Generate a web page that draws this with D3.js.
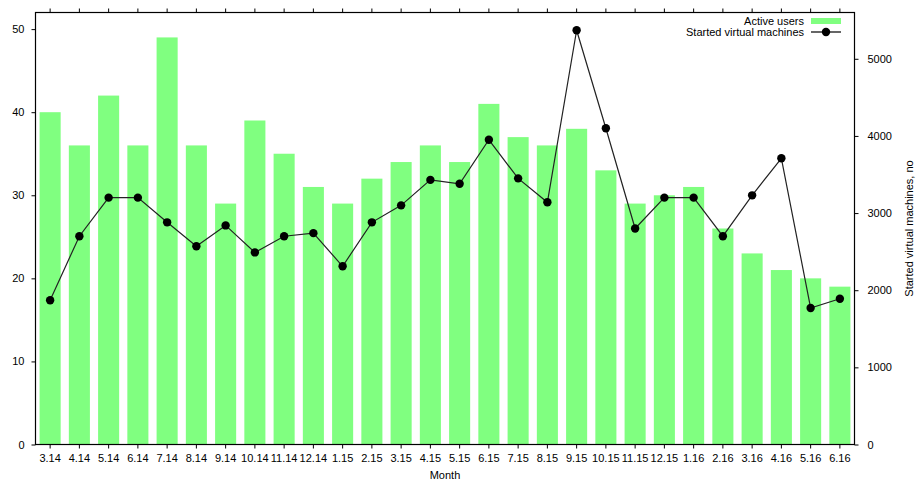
<!DOCTYPE html>
<html>
<head>
<meta charset="utf-8">
<script src="https://cdn.jsdelivr.net/npm/d3@7"></script>
<style>
  body { margin: 0; background: #fff; }
  text { font-family: "Liberation Sans", Arial, sans-serif; }
</style>
</head>
<body>
<script>
var w = 919;
var h = 484;

//months on the x axis
var months = ["3.14","4.14","5.14","6.14","7.14","8.14","9.14","10.14","11.14","12.14",
              "1.15","2.15","3.15","4.15","5.15","6.15","7.15","8.15","9.15","10.15","11.15","12.15",
              "1.16","2.16","3.16","4.16","5.16","6.16"];

//active users per month (left axis)
var activeUsers = [40,36,42,36,49,36,29,39,35,31,29,32,34,36,34,41,37,36,38,33,29,30,31,26,23,21,20,19];

//started virtual machines per month (right axis)
var startedVMs = [1870,2700,3200,3200,2880,2570,2840,2490,2700,2740,2310,2880,3100,3430,3380,3950,
                  3450,3140,5370,4100,2800,3200,3200,2700,3230,3710,1770,1890];

var leftTicks = [0,10,20,30,40,50];
var rightTicks = [0,1000,2000,3000,4000,5000];

var margin = {left: 35.5, right: 854.5, top: 12.5, bottom: 444.5};

var svg = d3.select("body").append("svg")
    .attr("width", w)
    .attr("height", h);

//scales
var x = d3.scaleBand()
    .domain(months)
    .range([margin.left, margin.right])
    .paddingInner(0.28)
    .paddingOuter(0.14);

var yLeft = d3.scaleLinear()
    .domain([0, 52])
    .range([margin.bottom, margin.top]);

var yRight = d3.scaleLinear()
    .domain([0, 5600])
    .range([margin.bottom, margin.top]);

//bars
svg.append("g").selectAll("rect")
    .data(activeUsers)
    .enter().append("rect")
    .attr("x", function(d, i) { return x(months[i]); })
    .attr("y", function(d) { return yLeft(d); })
    .attr("width", x.bandwidth())
    .attr("height", function(d) { return yLeft(0) - yLeft(d); })
    .attr("fill", "#80ff80");

//line
var line = d3.line()
    .x(function(d, i) { return x(months[i]) + x.bandwidth() / 2; })
    .y(function(d) { return yRight(d); });

svg.append("path")
    .datum(startedVMs)
    .attr("d", line)
    .attr("fill", "none")
    .attr("stroke", "#222")
    .attr("stroke-width", 1.2);

svg.append("g").selectAll("circle")
    .data(startedVMs)
    .enter().append("circle")
    .attr("cx", function(d, i) { return x(months[i]) + x.bandwidth() / 2; })
    .attr("cy", function(d) { return yRight(d); })
    .attr("r", 4.2)
    .attr("fill", "#000");

//axes
function styleAxis(g) {
    g.select(".domain").remove();
    g.selectAll("line").attr("stroke", "#000");
    g.selectAll("text").attr("font-size", 11).attr("fill", "#000");
}

svg.append("g")
    .attr("transform", "translate(0," + margin.bottom + ")")
    .call(d3.axisBottom(x).tickSize(4).tickPadding(6))
    .call(styleAxis);

svg.append("g")
    .attr("transform", "translate(0," + margin.top + ")")
    .call(d3.axisTop(x).tickSize(4).tickFormat(""))
    .call(styleAxis);

svg.append("g")
    .attr("transform", "translate(" + margin.left + ",0)")
    .call(d3.axisLeft(yLeft).tickValues(leftTicks).tickSize(4).tickPadding(7))
    .call(styleAxis);

svg.append("g")
    .attr("transform", "translate(" + margin.right + ",0)")
    .call(d3.axisRight(yRight).tickValues(rightTicks).tickSize(4).tickPadding(9).tickFormat(d3.format("d")))
    .call(styleAxis);

//frame
svg.append("rect")
    .attr("x", margin.left)
    .attr("y", margin.top)
    .attr("width", margin.right - margin.left)
    .attr("height", margin.bottom - margin.top)
    .attr("fill", "none")
    .attr("stroke", "#000")
    .attr("stroke-width", 1.2);

//axis titles
svg.append("text")
    .attr("x", (margin.left + margin.right) / 2)
    .attr("y", 479)
    .attr("text-anchor", "middle")
    .attr("font-size", 11)
    .text("Month");

svg.append("text")
    .attr("transform", "translate(913," + ((margin.top + margin.bottom) / 2) + ") rotate(-90)")
    .attr("text-anchor", "middle")
    .attr("font-size", 11)
    .text("Started virtual machines, no");

//legend
var legend = svg.append("g");

legend.append("text")
    .attr("x", 804)
    .attr("y", 25)
    .attr("text-anchor", "end")
    .attr("font-size", 11)
    .text("Active users");

legend.append("rect")
    .attr("x", 811)
    .attr("y", 18)
    .attr("width", 30)
    .attr("height", 6)
    .attr("fill", "#80ff80");

legend.append("text")
    .attr("x", 804)
    .attr("y", 36)
    .attr("text-anchor", "end")
    .attr("font-size", 11)
    .text("Started virtual machines");

legend.append("line")
    .attr("x1", 811).attr("x2", 841)
    .attr("y1", 32).attr("y2", 32)
    .attr("stroke", "#000")
    .attr("stroke-width", 1.2);

legend.append("circle")
    .attr("cx", 826)
    .attr("cy", 32)
    .attr("r", 4.2)
    .attr("fill", "#000");
</script>
</body>
</html>
